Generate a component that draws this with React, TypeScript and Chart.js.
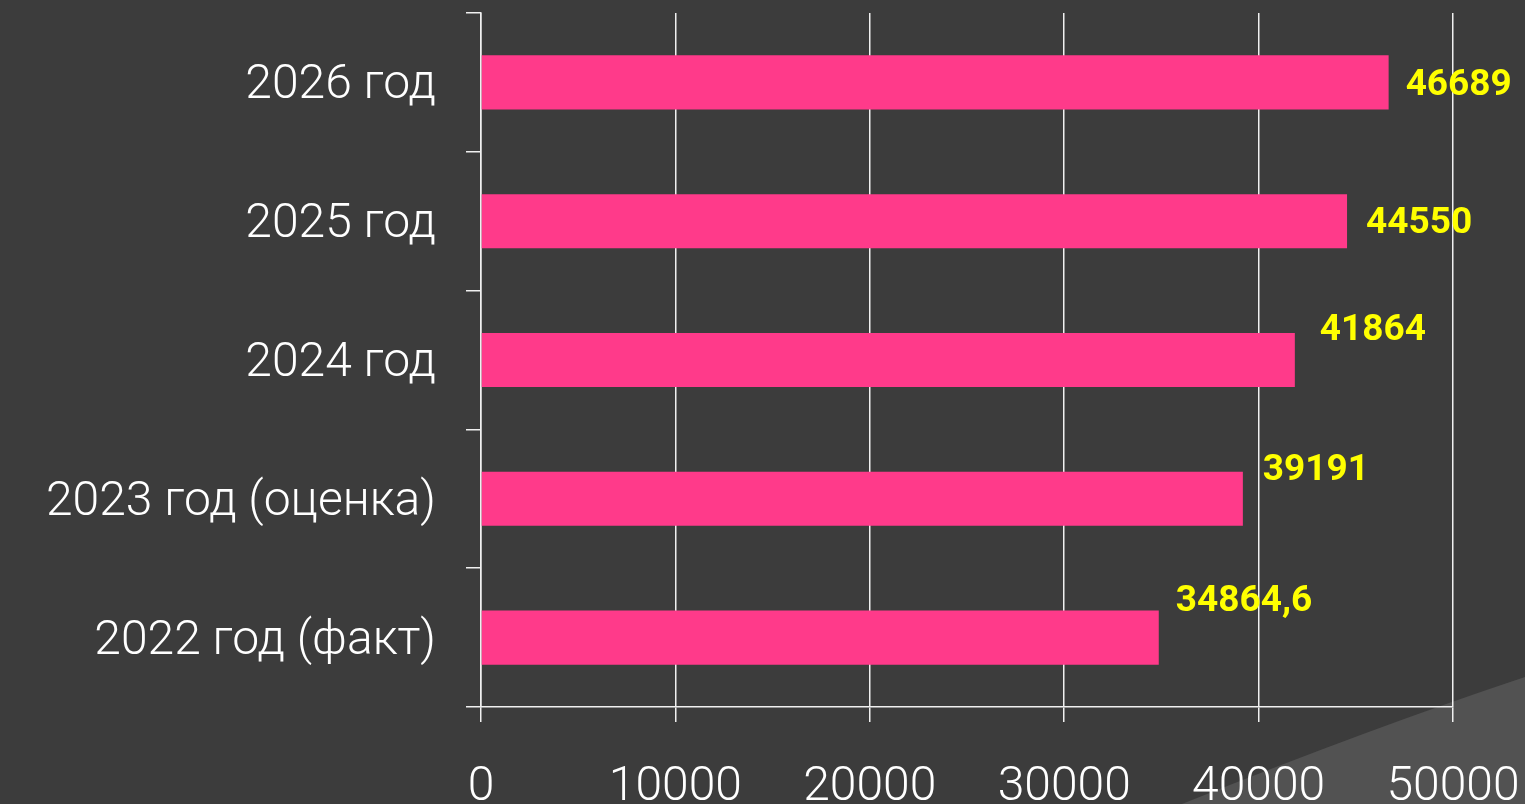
import React, { useEffect, useRef } from "react";
import { Chart, registerables } from "chart.js";

Chart.register(...registerables);

// ---- data ----
const categories = ["2022 год (факт)", "2023 год (оценка)", "2024 год", "2025 год", "2026 год"];
const values = [34864.6, 39191, 41864, 44550, 46689];
const valueLabels = ["34864,6", "39191", "41864", "44550", "46689"];
const xTickValues = [0, 10000, 20000, 30000, 40000, 50000];

// ---- style (label nudges relative to bar end, as placed in the original) ----
const labelNudges = [
  [17, -36],
  [20, -28],
  [25, -29],
  [19, 3],
  [17, 3],
];

const BG = "#3c3c3c";
const BAR = "#ff3a8a";
const LINE = "#f0f0f0";
const FONT = "Roboto, 'DejaVu Sans', sans-serif";

const backgroundPlugin = {
  id: "bgDecor",
  beforeDraw(chart: any) {
    const { ctx, width, height } = chart;
    ctx.save();
    ctx.fillStyle = BG;
    ctx.fillRect(0, 0, width, height);
    // decorative lighter corner at the bottom right
    ctx.beginPath();
    ctx.moveTo(width * 0.775, height);
    ctx.quadraticCurveTo(width * 0.9, height * 0.905, width, height * 0.842);
    ctx.lineTo(width, height);
    ctx.closePath();
    ctx.fillStyle = "#525252";
    ctx.fill();
    ctx.restore();
  },
};

const valueLabelPlugin = {
  id: "valueLabels",
  afterDatasetsDraw(chart: any) {
    const { ctx } = chart;
    const meta = chart.getDatasetMeta(0);
    ctx.save();
    ctx.fillStyle = "#ffff00";
    ctx.font = `bold 37px ${FONT}`;
    ctx.textAlign = "left";
    ctx.textBaseline = "middle";
    meta.data.forEach((bar: any, i: number) => {
      const [dx, dy] = labelNudges[i];
      ctx.fillText(valueLabels[i], bar.x + dx, bar.y + dy);
    });
    ctx.restore();
  },
};

export default function App() {
  const ref = useRef<HTMLCanvasElement | null>(null);

  useEffect(() => {
    if (!ref.current) return;
    const chart = new Chart(ref.current, {
      type: "bar",
      data: {
        labels: categories,
        datasets: [
          {
            data: values,
            backgroundColor: BAR,
            borderWidth: 0,
            categoryPercentage: 1,
            barPercentage: 0.39,
          },
        ],
      },
      options: {
        indexAxis: "y",
        animation: false,
        responsive: true,
        maintainAspectRatio: false,
        layout: { padding: { top: 13, right: 72, left: 0, bottom: 0 } },
        plugins: {
          legend: { display: false },
          tooltip: { enabled: false },
        },
        scales: {
          x: {
            min: 0,
            max: 50000,
            afterBuildTicks(scale: any) {
              scale.ticks = xTickValues.map((v) => ({ value: v }));
            },
            afterFit(scale: any) {
              scale.height = 97;
              scale.paddingLeft = 0;
              scale.paddingRight = 0;
            },
            grid: {
              color: LINE,
              lineWidth: 1.5,
              tickLength: 15,
              drawTicks: true,
            },
            border: { display: true, color: LINE, width: 1.5 },
            ticks: {
              color: "#ffffff",
              font: { family: FONT, size: 48, weight: 300 },
              padding: 37,
              maxRotation: 0,
              autoSkip: false,
              callback: (v: any) => String(v),
            },
          },
          y: {
            reverse: true,
            afterFit(scale: any) {
              scale.width = 481;
              scale.paddingTop = 0;
              scale.paddingBottom = 0;
            },
            grid: {
              offset: true,
              drawOnChartArea: false,
              drawTicks: true,
              tickLength: 15,
              color: LINE,
              lineWidth: 1.5,
            },
            border: { display: true, color: LINE, width: 1.5 },
            ticks: {
              color: "#ffffff",
              font: { family: FONT, size: 48, weight: 300 },
              padding: 30,
              labelOffset: 4,
              autoSkip: false,
            },
          },
        },
      },
      plugins: [backgroundPlugin, valueLabelPlugin],
    });
    return () => chart.destroy();
  }, []);

  return (
    <div style={{ position: "fixed", left: 0, top: 0, width: 1525, height: 804, background: BG }}>
      <canvas ref={ref} />
    </div>
  );
}
